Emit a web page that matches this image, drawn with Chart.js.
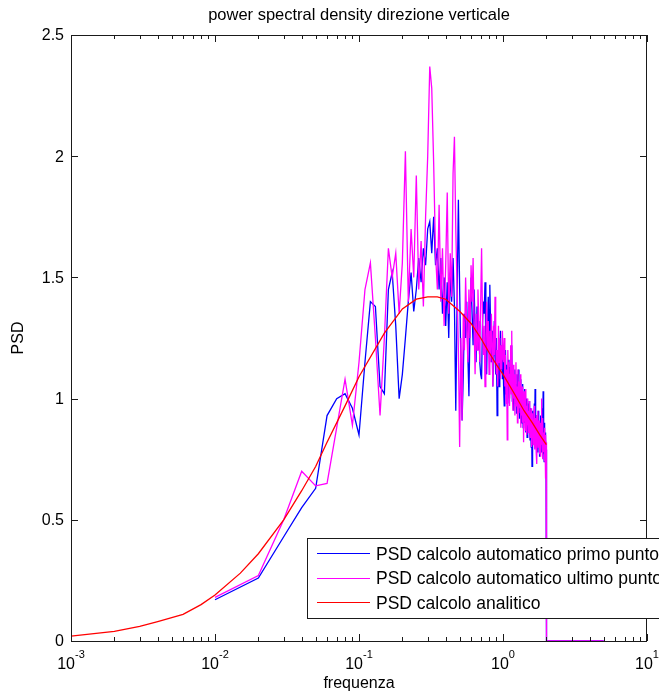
<!DOCTYPE html>
<html>
<head>
<meta charset="utf-8">
<script src="https://cdn.jsdelivr.net/npm/chart.js@4/dist/chart.umd.min.js"></script>
<style>
  html, body { margin: 0; padding: 0; background: #fff; }
  canvas { display: block; }
</style>
</head>
<body>
<canvas id="psdChart" width="659" height="698"></canvas>
<script>
// frequenze (Hz) dello spettro calcolato, passo 0.01
const freq = [
  0.01, 0.02, 0.03, 0.04, 0.05, 0.06, 0.07, 0.08, 0.09, 0.10, 0.11, 0.12, 0.13, 0.14, 0.15, 0.16, 0.17, 0.18, 0.19, 0.20,
  0.21, 0.22, 0.23, 0.24, 0.25, 0.26, 0.27, 0.28, 0.29, 0.30, 0.31, 0.32, 0.33, 0.34, 0.35, 0.36, 0.37, 0.38, 0.39, 0.40,
  0.41, 0.42, 0.43, 0.44, 0.45, 0.46, 0.47, 0.48, 0.49, 0.50, 0.51, 0.52, 0.53, 0.54, 0.55, 0.56, 0.57, 0.58, 0.59, 0.60,
  0.61, 0.62, 0.63, 0.64, 0.65, 0.66, 0.67, 0.68, 0.69, 0.70, 0.71, 0.72, 0.73, 0.74, 0.75, 0.76, 0.77, 0.78, 0.79, 0.80,
  0.81, 0.82, 0.83, 0.84, 0.85, 0.86, 0.87, 0.88, 0.89, 0.90, 0.91, 0.92, 0.93, 0.94, 0.95, 0.96, 0.97, 0.98, 0.99, 1.00,
  1.01, 1.02, 1.03, 1.04, 1.05, 1.06, 1.07, 1.08, 1.09, 1.10, 1.11, 1.12, 1.13, 1.14, 1.15, 1.16, 1.17, 1.18, 1.19, 1.20,
  1.21, 1.22, 1.23, 1.24, 1.25, 1.26, 1.27, 1.28, 1.29, 1.30, 1.31, 1.32, 1.33, 1.34, 1.35, 1.36, 1.37, 1.38, 1.39, 1.40,
  1.41, 1.42, 1.43, 1.44, 1.45, 1.46, 1.47, 1.48, 1.49, 1.50, 1.51, 1.52, 1.53, 1.54, 1.55, 1.56, 1.57, 1.58, 1.59, 1.60,
  1.61, 1.62, 1.63, 1.64, 1.65, 1.66, 1.67, 1.68, 1.69, 1.70, 1.71, 1.72, 1.73, 1.74, 1.75, 1.76, 1.77, 1.78, 1.79, 1.80,
  1.81, 1.82, 1.83, 1.84, 1.85, 1.86, 1.87, 1.88, 1.89, 1.90, 1.91, 1.92, 1.93, 1.94, 1.95, 1.96, 1.97, 1.98, 1.99, 2.00
];

// PSD calcolo automatico primo punto
const psdPrimo = [
  0.17, 0.26, 0.43, 0.55, 0.63, 0.93, 1.00, 1.02, 0.96, 0.85, 1.15, 1.40, 1.38, 1.05, 1.02, 1.45, 1.52, 1.30, 1.00, 1.10,
  1.25, 1.40, 1.52, 1.36, 1.45, 1.58, 1.48, 1.62, 1.55, 1.70, 1.73, 1.60, 1.75, 1.55, 1.62, 1.45, 1.58, 1.35, 1.50, 1.30,
  1.48, 1.25, 1.52, 1.40, 1.58, 1.38, 0.95, 1.40, 1.82, 1.45, 1.15, 0.91, 1.10, 1.35, 1.25, 1.40, 1.18, 1.01, 1.30, 1.50,
  1.35, 1.22, 1.45, 1.30, 1.15, 1.38, 1.20, 1.32, 1.15, 1.10, 1.08, 1.30, 1.40, 1.35, 1.48, 1.22, 1.10, 1.30, 1.42, 1.25,
  1.47, 1.30, 1.15, 1.28, 1.05, 1.20, 1.32, 1.18, 1.10, 1.25, 0.93, 1.20, 1.12, 1.05, 1.18, 1.28, 1.12, 1.22, 1.08, 1.16,
  1.05, 0.97, 1.12, 1.20, 1.02, 1.14, 1.08, 0.98, 1.16, 1.10, 1.00, 1.13, 1.05, 1.18, 1.22, 0.99, 1.10, 1.03, 0.95, 1.08,
  1.12, 0.98, 1.06, 0.94, 1.10, 1.02, 0.96, 1.12, 1.00, 0.92, 1.05, 0.98, 1.08, 0.90, 1.02, 0.95, 1.06, 0.88, 0.99, 0.93,
  1.04, 0.90, 0.97, 0.86, 1.00, 0.92, 0.84, 0.98, 0.90, 0.95, 0.87, 0.99, 0.92, 0.83, 0.96, 0.89, 0.80, 0.94, 0.72, 0.88,
  0.95, 0.85, 0.91, 0.82, 0.98, 0.87, 1.04, 0.84, 0.90, 0.80, 0.93, 0.86, 0.78, 0.91, 0.84, 0.95, 0.82, 0.88, 0.76, 0.90,
  0.85, 0.80, 0.93, 0.78, 0.87, 0.82, 0.96, 0.77, 0.86, 1.03, 0.80, 0.84, 0.74, 0.90, 0.81, 0.86, 0.76, 0.83, 0.79, 0.62
];

// PSD calcolo automatico ultimo punto
const psdUltimo = [
  0.18, 0.27, 0.50, 0.70, 0.64, 0.65, 0.88, 1.08, 0.89, 1.15, 1.45, 1.56, 1.25, 0.93, 1.25, 1.62, 1.50, 1.60, 1.35, 1.56,
  2.02, 1.40, 1.70, 1.50, 1.92, 1.45, 1.65, 1.38, 1.75, 2.00, 2.37, 2.28, 1.97, 1.60, 1.45, 1.80, 1.40, 1.62, 1.30, 1.55,
  1.85, 1.35, 1.60, 1.42, 1.93, 2.08, 1.70, 1.45, 1.20, 0.80, 1.25, 0.91, 1.35, 1.20, 1.50, 1.30, 1.15, 1.45, 1.25, 1.55,
  1.40, 1.58, 1.30, 1.10, 1.35, 1.20, 1.45, 1.30, 1.15, 1.40, 1.62, 1.35, 1.18, 1.30, 1.05, 1.25, 1.40, 1.20, 1.32, 1.10,
  1.28, 1.15, 1.35, 1.22, 1.05, 1.30, 1.18, 1.42, 1.25, 1.10, 1.20, 1.05, 1.30, 1.15, 1.25, 1.08, 1.22, 1.12, 1.28, 1.18,
  1.15, 1.25, 1.05, 1.18, 0.98, 1.12, 0.83, 1.20, 1.08, 1.15, 0.97, 1.10, 1.22, 1.02, 1.28, 1.06, 0.95, 1.14, 1.00, 1.10,
  0.93, 1.08, 1.15, 0.97, 1.05, 0.90, 1.12, 1.01, 0.94, 1.07, 0.96, 1.10, 0.88, 1.02, 0.93, 1.05, 0.90, 0.99, 0.82, 1.03,
  0.91, 0.98, 0.87, 1.04, 0.92, 0.85, 0.97, 0.89, 1.00, 0.86, 0.95, 0.88, 0.99, 0.84, 0.93, 0.87, 0.96, 0.80, 0.91, 0.86,
  0.94, 0.81, 0.90, 0.85, 0.97, 0.79, 0.92, 0.84, 0.88, 0.78, 0.93, 0.73, 0.89, 0.83, 0.95, 0.80, 0.87, 0.91, 0.77, 0.86,
  0.82, 0.90, 0.76, 0.88, 1.00, 0.81, 0.85, 0.75, 0.92, 0.80, 0.86, 0.78, 0.84, 0.74, 0.88, 0.80, 0.67, 0.85, 0.78, 0.82
];

// oltre 2 Hz lo spettro calcolato e' nullo
const tailFreq = [2.01, 5];
const tailPrimo = [0, 0];
const tailUltimo = [0, 0];

// PSD calcolo analitico
const freqAnalitico = [0.001, 0.002, 0.003, 0.004, 0.006, 0.008, 0.01, 0.015, 0.02, 0.03, 0.04, 0.05, 0.06, 0.08, 0.1,
  0.15, 0.2, 0.25, 0.3, 0.35, 0.4, 0.5, 0.6, 0.7, 0.8, 0.9, 1.0, 1.2, 1.4, 1.6, 1.8, 2.0];
const psdAnalitico = [0.02, 0.04, 0.06, 0.08, 0.11, 0.15, 0.19, 0.28, 0.36, 0.50, 0.62, 0.72, 0.82, 0.97, 1.09,
  1.27, 1.37, 1.41, 1.42, 1.42, 1.41, 1.36, 1.31, 1.25, 1.19, 1.14, 1.10, 1.02, 0.95, 0.90, 0.85, 0.81];

const xTickExp = [-3, -2, -1, 0, 1];
const yTicks = [0, 0.5, 1, 1.5, 2, 2.5];
const yTickLabels = ["0", "0.5", "1", "1.5", "2", "2.5"];
const legendLabels = [
  "PSD calcolo automatico primo punto",
  "PSD calcolo automatico ultimo punto",
  "PSD calcolo analitico"
];
const seriesColors = ["#0000ff", "#ff00ff", "#ff0000"];

const FONT = '"Liberation Sans", Arial, Helvetica, sans-serif';

function toPoints(xs, ys) {
  return xs.map((x, i) => ({ x: x, y: ys[i] }));
}

// assi stile MATLAB: box, tick interni, etichette 10^n, titolo e legenda
const matlabAxes = {
  id: "matlabAxes",
  afterDatasetsDraw(chart) {
    const ctx = chart.ctx;
    const area = chart.chartArea;
    const xs = chart.scales.x;
    const ys = chart.scales.y;
    ctx.save();
    ctx.strokeStyle = "#1a1a1a";
    ctx.lineWidth = 1;
    ctx.strokeRect(Math.round(area.left) + 0.5, Math.round(area.top) + 0.5,
      Math.round(area.right - area.left) - 1, Math.round(area.bottom - area.top));

    ctx.beginPath();
    // tick asse x (logaritmico)
    for (let e = xTickExp[0]; e <= xTickExp[xTickExp.length - 1]; e++) {
      for (let k = 1; k <= 9; k++) {
        if (e === xTickExp[xTickExp.length - 1] && k > 1) break;
        const px = Math.round(xs.getPixelForValue(k * Math.pow(10, e))) + 0.5;
        const len = k === 1 ? 7 : 4;
        ctx.moveTo(px, area.bottom);
        ctx.lineTo(px, area.bottom - len);
        ctx.moveTo(px, area.top);
        ctx.lineTo(px, area.top + len);
      }
    }
    // tick asse y
    yTicks.forEach(v => {
      const py = Math.round(ys.getPixelForValue(v)) + 0.5;
      ctx.moveTo(area.left, py);
      ctx.lineTo(area.left + 7, py);
      ctx.moveTo(area.right, py);
      ctx.lineTo(area.right - 7, py);
    });
    ctx.stroke();

    ctx.fillStyle = "#000";
    // etichette y
    ctx.font = "16px " + FONT;
    ctx.textAlign = "right";
    ctx.textBaseline = "middle";
    yTicks.forEach((v, i) => {
      ctx.fillText(yTickLabels[i], area.left - 7, ys.getPixelForValue(v) + 1);
    });

    // etichette x: 10 con esponente
    ctx.textBaseline = "alphabetic";
    xTickExp.forEach(e => {
      const px = xs.getPixelForValue(Math.pow(10, e));
      ctx.font = "16px " + FONT;
      const wBase = ctx.measureText("10").width;
      ctx.font = "11px " + FONT;
      const wExp = ctx.measureText(String(e)).width;
      const x0 = px - (wBase + wExp) / 2;
      ctx.textAlign = "left";
      ctx.font = "16px " + FONT;
      ctx.fillText("10", x0, area.bottom + 28);
      ctx.font = "11px " + FONT;
      ctx.fillText(String(e), x0 + wBase, area.bottom + 17);
    });

    // titoli
    ctx.font = "16.5px " + FONT;
    ctx.textAlign = "center";
    ctx.fillText("power spectral density direzione verticale", (area.left + area.right) / 2, 20);
    ctx.font = "16px " + FONT;
    ctx.fillText("frequenza", (area.left + area.right) / 2, 688);
    ctx.save();
    ctx.translate(19, (area.top + area.bottom) / 2);
    ctx.rotate(-Math.PI / 2);
    ctx.textBaseline = "middle";
    ctx.fillText("PSD", 0, 0);
    ctx.restore();

    // legenda
    const lx = 307, ly = 538, lh = 80;
    ctx.fillStyle = "#fff";
    ctx.fillRect(lx, ly, 420, lh);
    ctx.strokeStyle = "#1a1a1a";
    ctx.strokeRect(lx + 0.5, ly + 0.5, 420, lh);
    ctx.font = "17.5px " + FONT;
    ctx.textAlign = "left";
    ctx.textBaseline = "alphabetic";
    legendLabels.forEach((lab, i) => {
      const y = 553 + i * 24.5;
      ctx.strokeStyle = seriesColors[i];
      ctx.lineWidth = 1.2;
      ctx.beginPath();
      ctx.moveTo(317, Math.round(y) + 0.5);
      ctx.lineTo(370, Math.round(y) + 0.5);
      ctx.stroke();
      ctx.fillStyle = "#000";
      ctx.fillText(lab, 376, y + 6.5);
    });
    ctx.restore();
  }
};

new Chart(document.getElementById("psdChart"), {
  type: "line",
  data: {
    datasets: [
      {
        label: legendLabels[0],
        data: toPoints(freq.concat(tailFreq), psdPrimo.concat(tailPrimo)),
        borderColor: seriesColors[0],
        borderWidth: 1.3,
        pointRadius: 0,
        tension: 0,
        order: 3
      },
      {
        label: legendLabels[1],
        data: toPoints(freq.concat(tailFreq), psdUltimo.concat(tailUltimo)),
        borderColor: seriesColors[1],
        borderWidth: 1.3,
        pointRadius: 0,
        tension: 0,
        order: 2
      },
      {
        label: legendLabels[2],
        data: toPoints(freqAnalitico, psdAnalitico),
        borderColor: seriesColors[2],
        borderWidth: 1.3,
        pointRadius: 0,
        tension: 0,
        order: 1
      }
    ]
  },
  options: {
    responsive: false,
    animation: false,
    layout: { padding: { left: 71, right: 12, top: 35, bottom: 57 } },
    plugins: {
      legend: { display: false },
      title: { display: false },
      tooltip: { enabled: false }
    },
    scales: {
      x: { type: "logarithmic", min: 0.001, max: 10, display: false },
      y: { type: "linear", min: 0, max: 2.5, display: false }
    }
  },
  plugins: [matlabAxes]
});
</script>
</body>
</html>
